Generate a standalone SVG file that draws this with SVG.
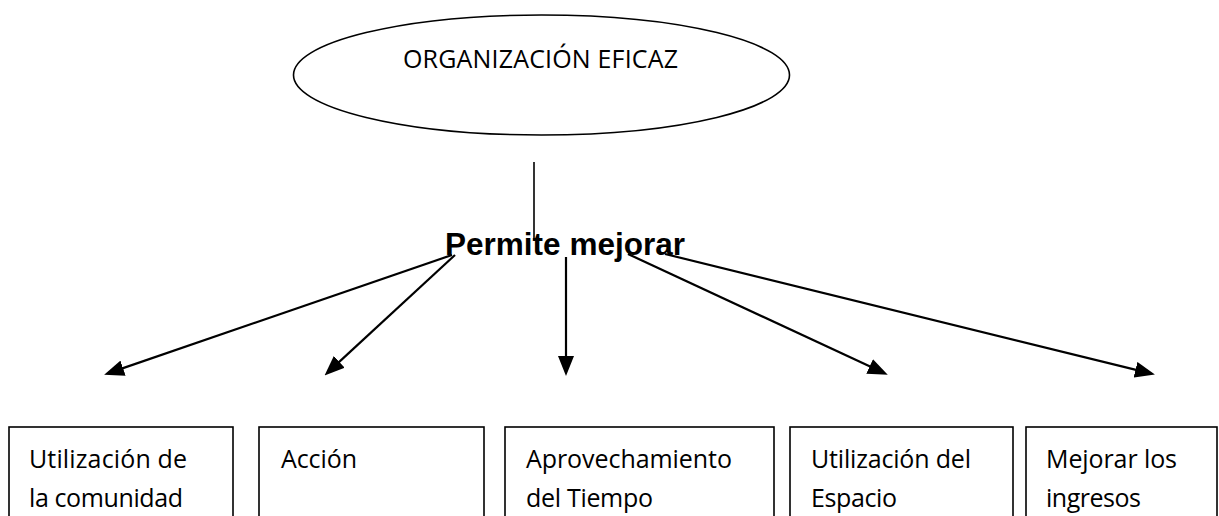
<svg xmlns="http://www.w3.org/2000/svg" width="1219" height="516" viewBox="0 0 1219 516">
<style>
.shape{fill:#fff;stroke:#000;stroke-width:1.6}
.lbl{font-family:"Open Sans","Liberation Sans",sans-serif;font-size:25px;fill:#000}
.bold{font-family:"Liberation Sans",Arial,sans-serif;font-size:31.5px;font-weight:bold;fill:#000}
.conn{stroke:#000;stroke-width:2.2;fill:none}
</style>
<defs>
<marker id="ah" markerUnits="userSpaceOnUse" markerWidth="20" markerHeight="16" refX="10" refY="8" orient="auto">
<path d="M0,0 L20,8 L0,16 z" fill="#000"/>
</marker>
</defs>
<rect width="1219" height="516" fill="#fff"/>
<g id="root">
<ellipse class="shape" cx="541.5" cy="75" rx="248" ry="60"/>
<text class="lbl" x="403" y="68" textLength="275">ORGANIZACIÓN EFICAZ</text>
</g>
<g id="verb">
<text class="bold" x="445" y="255" textLength="240">Permite mejorar</text>
</g>
<g id="n1">
<rect class="shape" x="9" y="427" width="224" height="100"/>
<text class="lbl" x="29" y="468" textLength="158">Utilización de</text>
<text class="lbl" x="29" y="507" textLength="154">la comunidad</text>
</g>
<g id="n2">
<rect class="shape" x="259" y="427" width="225" height="100"/>
<text class="lbl" x="281" y="468" textLength="76">Acción</text>
</g>
<g id="n3">
<rect class="shape" x="505" y="427" width="269" height="100"/>
<text class="lbl" x="526" y="468" textLength="206">Aprovechamiento</text>
<text class="lbl" x="526" y="507" textLength="127">del Tiempo</text>
</g>
<g id="n4">
<rect class="shape" x="790" y="427" width="223" height="100"/>
<text class="lbl" x="811" y="468" textLength="160">Utilización del</text>
<text class="lbl" x="811" y="507" textLength="86">Espacio</text>
</g>
<g id="n5">
<rect class="shape" x="1026" y="427" width="191" height="100"/>
<text class="lbl" x="1046" y="468" textLength="131">Mejorar los</text>
<text class="lbl" x="1046" y="507" textLength="95">ingresos</text>
</g>
<g id="connectors">
<line class="conn" x1="534" y1="162" x2="534" y2="240" style="stroke-width:1.6"/>
<line class="conn" x1="452" y1="255" x2="113.6" y2="371.4" marker-end="url(#ah)"/>
<line class="conn" x1="455" y1="255" x2="331.9" y2="368.6" marker-end="url(#ah)"/>
<line class="conn" x1="566" y1="257" x2="566" y2="366" marker-end="url(#ah)"/>
<line class="conn" x1="628" y1="254" x2="878.7" y2="370.6" marker-end="url(#ah)"/>
<line class="conn" x1="665" y1="254" x2="1145.2" y2="372.1" marker-end="url(#ah)"/>
</g>
</svg>
